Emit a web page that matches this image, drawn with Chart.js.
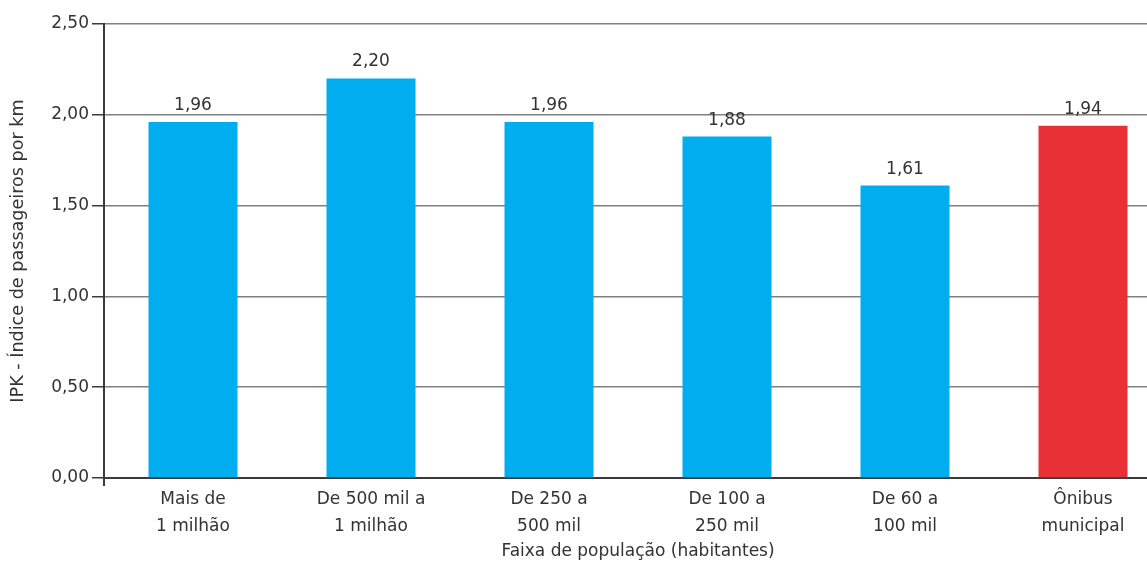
<!DOCTYPE html>
<html>
<head>
<meta charset="utf-8">
<script src="https://cdn.jsdelivr.net/npm/chart.js@4/dist/chart.umd.min.js"></script>
<style>
  html, body { margin: 0; padding: 0; background: #fff; overflow: hidden; }
  #wrap { width: 1147px; height: 562px; overflow: hidden; }
  #c { display: block; }
</style>
</head>
<body>
<div id="wrap"><canvas id="c" width="1174" height="562"></canvas></div>
<script>
// Faixas de população (rótulos em duas linhas)
const categories = [
  ['Mais de', '1 milhão'],
  ['De 500 mil a', '1 milhão'],
  ['De 250 a', '500 mil'],
  ['De 100 a', '250 mil'],
  ['De 60 a', '100 mil'],
  ['Ônibus', 'municipal']
];
// IPK - passageiros por km
const ipkValues = [1.96, 2.20, 1.96, 1.88, 1.61, 1.94];
const barColors = ['#00AEEF', '#00AEEF', '#00AEEF', '#00AEEF', '#00AEEF', '#E83036'];
const yTicks = [0, 0.5, 1.0, 1.5, 2.0, 2.5];

const TEXT = '#333333';
const FONT = 'DejaVu Sans';
const fmt = v => v.toFixed(2).replace('.', ',');

// Valores escritos acima de cada barra
const valueLabels = {
  id: 'valueLabels',
  afterDatasetsDraw(chart) {
    const ctx = chart.ctx;
    const meta = chart.getDatasetMeta(0);
    ctx.save();
    ctx.font = '17px "' + FONT + '"';
    ctx.fillStyle = TEXT;
    ctx.textAlign = 'center';
    ctx.textBaseline = 'bottom';
    meta.data.forEach((bar, i) => {
      ctx.fillText(fmt(ipkValues[i]), bar.x, bar.y - 8);
    });
    ctx.restore();
  }
};

// Pequeno prolongamento do eixo vertical abaixo do zero
const axisStub = {
  id: 'axisStub',
  afterDraw(chart) {
    const { ctx, chartArea } = chart;
    ctx.save();
    ctx.strokeStyle = '#3a3a3a';
    ctx.lineWidth = 2;
    ctx.beginPath();
    ctx.moveTo(chartArea.left, chartArea.bottom);
    ctx.lineTo(chartArea.left, chartArea.bottom + 8);
    ctx.stroke();
    ctx.restore();
  }
};

new Chart(document.getElementById('c'), {
  type: 'bar',
  data: {
    labels: categories,
    datasets: [{
      data: ipkValues,
      backgroundColor: barColors,
      borderWidth: 0,
      barPercentage: 0.5,
      categoryPercentage: 1.0
    }]
  },
  options: {
    responsive: false,
    animation: false,
    layout: { padding: { top: 24, right: 2, left: 0, bottom: 0 } },
    plugins: {
      legend: { display: false },
      tooltip: { enabled: false }
    },
    scales: {
      x: {
        offset: true,
        grid: { display: false },
        border: { display: true, color: '#3a3a3a', width: 2 },
        ticks: {
          color: TEXT,
          font: { family: FONT, size: 17, lineHeight: 1.6 },
          padding: 0,
          maxRotation: 0,
          autoSkip: false
        },
        title: {
          display: true,
          text: 'Faixa de população (habitantes)',
          color: TEXT,
          font: { family: FONT, size: 17 },
          padding: { top: 0, bottom: 0 }
        },
        afterFit(scale) { scale.height = 84; }
      },
      y: {
        min: 0,
        max: 2.5,
        afterBuildTicks(scale) { scale.ticks = yTicks.map(v => ({ value: v })); },
        grid: {
          color: '#808080',
          lineWidth: 1.5,
          drawTicks: true,
          tickLength: 12,
          tickColor: '#3a3a3a'
        },
        border: { display: true, color: '#3a3a3a', width: 2 },
        ticks: {
          color: TEXT,
          font: { family: FONT, size: 17 },
          padding: 3,
          callback: v => fmt(v)
        },
        title: {
          display: true,
          text: 'IPK - Índice de passageiros por km',
          color: TEXT,
          font: { family: FONT, size: 17.6 },
          padding: { top: 8, bottom: 0 }
        },
        afterFit(scale) { scale.width = 104; }
      }
    }
  },
  plugins: [valueLabels, axisStub]
});
</script>
</body>
</html>
